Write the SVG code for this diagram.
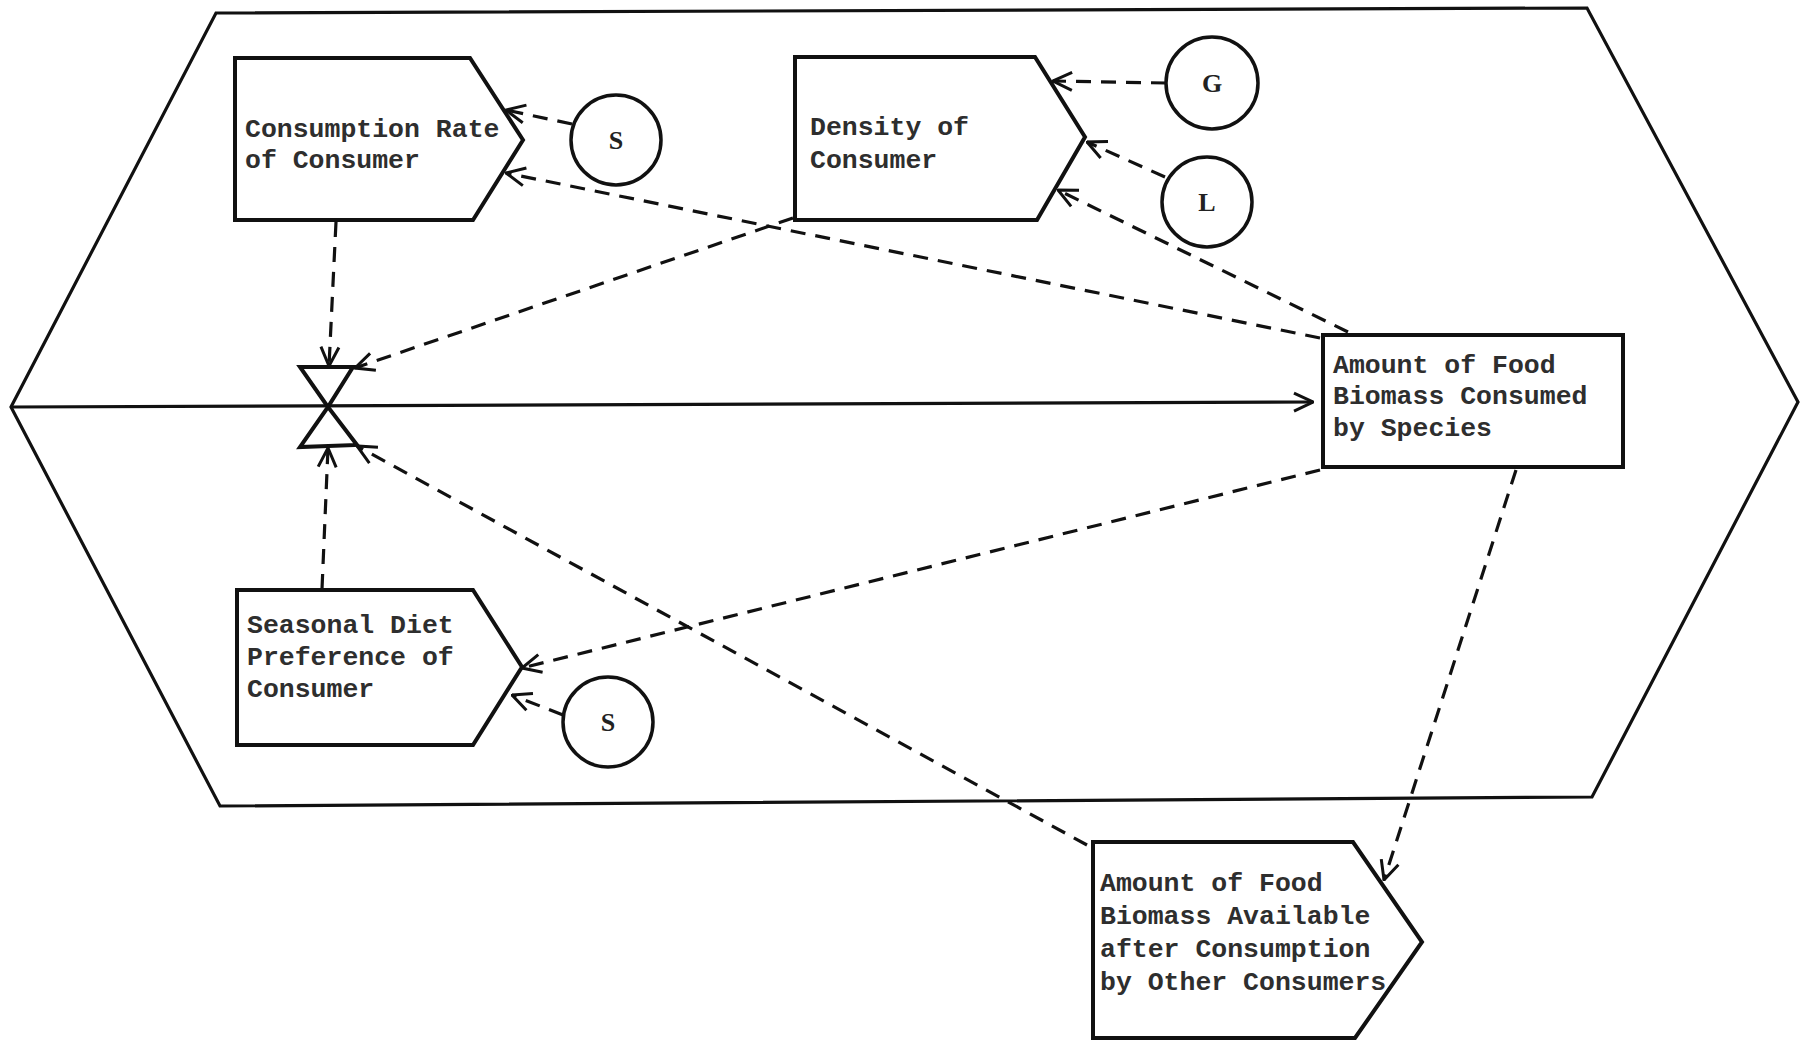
<svg xmlns="http://www.w3.org/2000/svg" width="1803" height="1043" viewBox="0 0 1803 1043">
<style>
.frame{fill:none;stroke:#111;stroke-width:3.2;stroke-linejoin:miter}
.box{fill:none;stroke:#111;stroke-width:4;stroke-linejoin:miter}
.circ{fill:none;stroke:#111;stroke-width:3.5}
.lbl{font-family:"Liberation Mono","DejaVu Sans Mono",monospace;font-size:26.5px;fill:#2e2e2e;font-weight:bold}
.cl{font-family:"Liberation Serif","DejaVu Serif",serif;font-size:26px;fill:#222;font-weight:bold;text-anchor:middle}
.dash{fill:none;stroke:#111;stroke-width:3.2;stroke-dasharray:15 10;marker-end:url(#ah)}
.solid{fill:none;stroke:#111;stroke-width:3.2;marker-end:url(#ah)}
</style>
<defs>
<marker id="ah" viewBox="0 0 22 22" refX="21" refY="11" markerWidth="22" markerHeight="22" markerUnits="userSpaceOnUse" orient="auto">
<path d="M2,2 L21,11 L2,20" fill="none" stroke="#111" stroke-width="3"/>
</marker>
</defs>
<rect width="1803" height="1043" fill="#fff"/>
<g id="frame">
<polygon class="frame" points="11,407 216,13 1587,8 1798,402 1592,797 220,806"/>
</g>
<g id="valve">
<polygon class="box" points="300,367 353,367 328,407 357,445 300,447 328,407"/>
</g>
<g id="consumption-rate">
<polygon class="box" points="235,58 470,58 523,140 473,220 235,220"/>
<text class="lbl" x="245" y="137">Consumption Rate</text>
<text class="lbl" x="245" y="168">of Consumer</text>
</g>
<g id="s1">
<circle class="circ" cx="616" cy="140" r="45"/>
<text class="cl" x="616" y="149">S</text>
</g>
<g id="density">
<polygon class="box" points="795,57 1035,57 1085,137 1037,220 795,220"/>
<text class="lbl" x="810" y="135">Density of</text>
<text class="lbl" x="810" y="168">Consumer</text>
</g>
<g id="g">
<circle class="circ" cx="1212" cy="83" r="46"/>
<text class="cl" x="1212" y="92">G</text>
</g>
<g id="l">
<circle class="circ" cx="1207" cy="202" r="45"/>
<text class="cl" x="1207" y="211">L</text>
</g>
<g id="consumed">
<rect class="box" x="1323" y="335" width="300" height="132"/>
<text class="lbl" x="1333" y="373">Amount of Food</text>
<text class="lbl" x="1333" y="404">Biomass Consumed</text>
<text class="lbl" x="1333" y="436">by Species</text>
</g>
<g id="seasonal">
<polygon class="box" points="237,590 473,590 522,667 473,745 237,745"/>
<text class="lbl" x="247" y="633">Seasonal Diet</text>
<text class="lbl" x="247" y="665">Preference of</text>
<text class="lbl" x="247" y="697">Consumer</text>
</g>
<g id="s2">
<circle class="circ" cx="608" cy="722" r="45"/>
<text class="cl" x="608" y="731">S</text>
</g>
<g id="available">
<polygon class="box" points="1093,842 1353,842 1422,942 1355,1038 1093,1038"/>
<text class="lbl" x="1100" y="891">Amount of Food</text>
<text class="lbl" x="1100" y="924">Biomass Available</text>
<text class="lbl" x="1100" y="957">after Consumption</text>
<text class="lbl" x="1100" y="990">by Other Consumers</text>
</g>
<g id="connectors">
<line class="solid" x1="11" y1="407" x2="1313" y2="402"/>
<line class="dash" x1="572" y1="124" x2="506" y2="110"/>
<line class="dash" x1="1320" y1="338" x2="506" y2="173"/>
<line class="dash" x1="1166" y1="83" x2="1053" y2="81"/>
<line class="dash" x1="1165" y1="177" x2="1087" y2="142"/>
<line class="dash" x1="1348" y1="332" x2="1058" y2="190"/>
<line class="dash" x1="336" y1="222" x2="329" y2="366"/>
<line class="dash" x1="793" y1="218" x2="355" y2="368"/>
<line class="dash" x1="322" y1="589" x2="328" y2="448"/>
<line class="dash" x1="1087" y1="845" x2="357" y2="446"/>
<line class="dash" x1="1320" y1="470" x2="522" y2="668"/>
<line class="dash" x1="563" y1="715" x2="512" y2="695"/>
<line class="dash" x1="1516" y1="470" x2="1384" y2="880"/>
</g>
</svg>
